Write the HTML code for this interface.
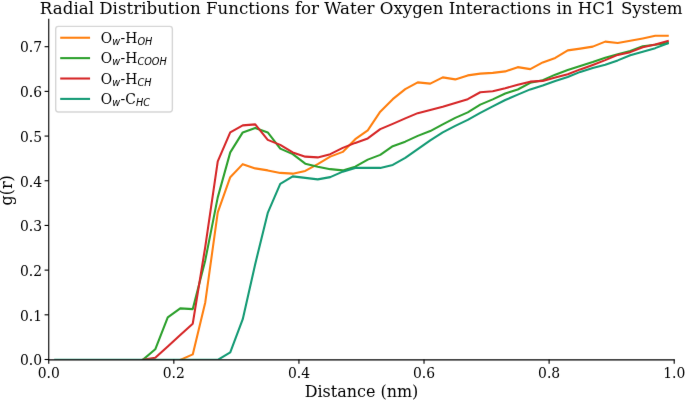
<!DOCTYPE html>
<html><head><meta charset="utf-8"><title>Radial Distribution Functions</title>
<style>html,body{margin:0;padding:0;background:#fff;width:685px;height:400px;overflow:hidden}svg{display:block}</style>
</head><body>
<svg width="685" height="400" viewBox="0 0 493.2 288" version="1.1">
 <defs>
  <style type="text/css">*{stroke-linejoin: round; stroke-linecap: butt}</style>
 </defs>
 <defs><filter id="soft" x="0" y="0" width="1" height="1" color-interpolation-filters="sRGB"><feConvolveMatrix order="3" kernelMatrix="0.00276 0.04704 0.00276 0.04704 0.80077 0.04704 0.00276 0.04704 0.00276" edgeMode="duplicate"/></filter></defs><g id="figure_1" filter="url(#soft)">
  <g id="patch_1">
   <path d="M 0 288 
L 493.2 288 
L 493.2 0 
L 0 0 
z
" style="fill: #ffffff"/>
  </g>
  <g id="axes_1">
   <g id="patch_2">
    <path d="M 35.1 258.84 
L 485.424 258.84 
L 485.424 13.968 
L 35.1 13.968 
z
" style="fill: #ffffff"/>
   </g>
   <g id="matplotlib.axis_1">
    <g id="xtick_1">
     <g id="line2d_1">
      <g>
       <path d="M 35.1000 258.8400 L 35.1000 261.8400" style="stroke: #000000; stroke-width: 0.8"/>
      </g>
     </g>
     <g id="text_1">
      <text style="font-size: 10px; font-family: 'DejaVu Serif', 'Liberation Serif', serif; text-anchor: middle" x="35.1" y="272.088437" transform="rotate(-0 35.1 272.088437)">0.0</text>
     </g>
    </g>
    <g id="xtick_2">
     <g id="line2d_2">
      <g>
       <path d="M 125.1648 258.8400 L 125.1648 261.8400" style="stroke: #000000; stroke-width: 0.8"/>
      </g>
     </g>
     <g id="text_2">
      <text style="font-size: 10px; font-family: 'DejaVu Serif', 'Liberation Serif', serif; text-anchor: middle" x="125.1648" y="272.088437" transform="rotate(-0 125.1648 272.088437)">0.2</text>
     </g>
    </g>
    <g id="xtick_3">
     <g id="line2d_3">
      <g>
       <path d="M 215.2296 258.8400 L 215.2296 261.8400" style="stroke: #000000; stroke-width: 0.8"/>
      </g>
     </g>
     <g id="text_3">
      <text style="font-size: 10px; font-family: 'DejaVu Serif', 'Liberation Serif', serif; text-anchor: middle" x="215.2296" y="272.088437" transform="rotate(-0 215.2296 272.088437)">0.4</text>
     </g>
    </g>
    <g id="xtick_4">
     <g id="line2d_4">
      <g>
       <path d="M 305.2944 258.8400 L 305.2944 261.8400" style="stroke: #000000; stroke-width: 0.8"/>
      </g>
     </g>
     <g id="text_4">
      <text style="font-size: 10px; font-family: 'DejaVu Serif', 'Liberation Serif', serif; text-anchor: middle" x="305.2944" y="272.088437" transform="rotate(-0 305.2944 272.088437)">0.6</text>
     </g>
    </g>
    <g id="xtick_5">
     <g id="line2d_5">
      <g>
       <path d="M 395.3592 258.8400 L 395.3592 261.8400" style="stroke: #000000; stroke-width: 0.8"/>
      </g>
     </g>
     <g id="text_5">
      <text style="font-size: 10px; font-family: 'DejaVu Serif', 'Liberation Serif', serif; text-anchor: middle" x="395.3592" y="272.088437" transform="rotate(-0 395.3592 272.088437)">0.8</text>
     </g>
    </g>
    <g id="xtick_6">
     <g id="line2d_6">
      <g>
       <path d="M 485.4240 258.8400 L 485.4240 261.8400" style="stroke: #000000; stroke-width: 0.8"/>
      </g>
     </g>
     <g id="text_6">
      <text style="font-size: 10px; font-family: 'DejaVu Serif', 'Liberation Serif', serif; text-anchor: middle" x="485.424" y="272.088437" transform="rotate(-0 485.424 272.088437)">1.0</text>
     </g>
    </g>
    <g id="text_7">
     <text style="font-size: 11.5px; font-family: 'DejaVu Serif', 'Liberation Serif', serif; text-anchor: middle" x="260.262" y="285.756328" transform="rotate(-0 260.262 285.756328)">Distance (nm)</text>
    </g>
   </g>
   <g id="matplotlib.axis_2">
    <g id="ytick_1">
     <g id="line2d_7">
      <g>
       <path d="M 35.1000 258.8400 L 32.1000 258.8400" style="stroke: #000000; stroke-width: 0.8"/>
      </g>
     </g>
     <g id="text_8" transform="translate(0.288 0.360)">
      <text style="font-size: 10px; font-family: 'DejaVu Serif', 'Liberation Serif', serif; text-anchor: end" x="30" y="262.639219" transform="rotate(-0 30 262.639219)">0.0</text>
     </g>
    </g>
    <g id="ytick_2">
     <g id="line2d_8">
      <g>
       <path d="M 35.1000 226.6661 L 32.1000 226.6661" style="stroke: #000000; stroke-width: 0.8"/>
      </g>
     </g>
     <g id="text_9" transform="translate(0.288 0.360)">
      <text style="font-size: 10px; font-family: 'DejaVu Serif', 'Liberation Serif', serif; text-anchor: end" x="30" y="230.465299" transform="rotate(-0 30 230.465299)">0.1</text>
     </g>
    </g>
    <g id="ytick_3">
     <g id="line2d_9">
      <g>
       <path d="M 35.1000 194.4922 L 32.1000 194.4922" style="stroke: #000000; stroke-width: 0.8"/>
      </g>
     </g>
     <g id="text_10" transform="translate(0.288 0.360)">
      <text style="font-size: 10px; font-family: 'DejaVu Serif', 'Liberation Serif', serif; text-anchor: end" x="30" y="198.291379" transform="rotate(-0 30 198.291379)">0.2</text>
     </g>
    </g>
    <g id="ytick_4">
     <g id="line2d_10">
      <g>
       <path d="M 35.1000 162.3182 L 32.1000 162.3182" style="stroke: #000000; stroke-width: 0.8"/>
      </g>
     </g>
     <g id="text_11" transform="translate(0.288 0.360)">
      <text style="font-size: 10px; font-family: 'DejaVu Serif', 'Liberation Serif', serif; text-anchor: end" x="30" y="166.117459" transform="rotate(-0 30 166.117459)">0.3</text>
     </g>
    </g>
    <g id="ytick_5">
     <g id="line2d_11">
      <g>
       <path d="M 35.1000 130.1443 L 32.1000 130.1443" style="stroke: #000000; stroke-width: 0.8"/>
      </g>
     </g>
     <g id="text_12" transform="translate(0.288 0.360)">
      <text style="font-size: 10px; font-family: 'DejaVu Serif', 'Liberation Serif', serif; text-anchor: end" x="30" y="133.943539" transform="rotate(-0 30 133.943539)">0.4</text>
     </g>
    </g>
    <g id="ytick_6">
     <g id="line2d_12">
      <g>
       <path d="M 35.1000 97.9704 L 32.1000 97.9704" style="stroke: #000000; stroke-width: 0.8"/>
      </g>
     </g>
     <g id="text_13" transform="translate(0.288 0.360)">
      <text style="font-size: 10px; font-family: 'DejaVu Serif', 'Liberation Serif', serif; text-anchor: end" x="30" y="101.769619" transform="rotate(-0 30 101.769619)">0.5</text>
     </g>
    </g>
    <g id="ytick_7">
     <g id="line2d_13">
      <g>
       <path d="M 35.1000 65.7965 L 32.1000 65.7965" style="stroke: #000000; stroke-width: 0.8"/>
      </g>
     </g>
     <g id="text_14" transform="translate(0.288 0.360)">
      <text style="font-size: 10px; font-family: 'DejaVu Serif', 'Liberation Serif', serif; text-anchor: end" x="30" y="69.595699" transform="rotate(-0 30 69.595699)">0.6</text>
     </g>
    </g>
    <g id="ytick_8">
     <g id="line2d_14">
      <g>
       <path d="M 35.1000 33.6226 L 32.1000 33.6226" style="stroke: #000000; stroke-width: 0.8"/>
      </g>
     </g>
     <g id="text_15" transform="translate(0.288 0.360)">
      <text style="font-size: 10px; font-family: 'DejaVu Serif', 'Liberation Serif', serif; text-anchor: end" x="30" y="37.421779" transform="rotate(-0 30 37.421779)">0.7</text>
     </g>
    </g>
    <g id="text_16">
     <text style="font-size: 11.5px; font-family: 'DejaVu Serif', 'Liberation Serif', serif; text-anchor: middle" x="8.981719" y="137.088" transform="rotate(-90 8.981719 137.088)">g(r)</text>
    </g>
   </g>
   <g id="line2d_15">
    <path d="M 129.78 259.128 
L 138.78 255.168 
L 147.78 217.728 
L 156.78 152.928 
L 165.78 127.584 
L 174.78 118.188 
L 183.78 121.248 
L 192.78 122.688 
L 201.78 124.488 
L 210.78 125.028 
L 219.78 123.048 
L 228.78 118.188 
L 237.78 112.788 
L 246.78 109.368 
L 255.78 100.188 
L 264.78 93.888 
L 273.78 80.388 
L 282.78 71.388 
L 291.78 64.188 
L 300.78 59.328 
L 309.78 60.228 
L 318.78 55.728 
L 327.78 57.168 
L 336.78 54.288 
L 345.78 53.028 
L 354.78 52.488 
L 363.78 51.408 
L 372.78 48.348 
L 381.78 49.788 
L 390.78 44.928 
L 399.78 41.688 
L 408.78 36.288 
L 417.78 35.028 
L 426.78 33.588 
L 435.78 29.988 
L 444.78 30.96 
L 453.78 29.376 
L 462.78 27.648 
L 471.78 25.776 
L 480.78 25.74 
" clip-path="url(#p02f2cd264d)" style="fill: none; stroke: #ff7f0e; stroke-width: 1.5; stroke-linecap: square"/>
   </g>
   <g id="line2d_16">
    <path d="M 102.78 259.128 
L 111.78 251.496 
L 120.78 228.528 
L 129.78 222.048 
L 138.78 222.552 
L 147.78 187.488 
L 156.78 142.128 
L 165.78 109.728 
L 174.78 95.328 
L 183.78 92.088 
L 192.78 95.328 
L 201.78 107.028 
L 210.78 110.988 
L 219.78 117.828 
L 228.78 119.988 
L 237.78 121.788 
L 246.78 122.688 
L 255.78 119.988 
L 264.78 114.948 
L 273.78 111.528 
L 282.78 105.228 
L 291.78 101.988 
L 300.78 97.848 
L 309.78 94.356 
L 318.78 89.532 
L 327.78 84.888 
L 336.78 80.928 
L 345.78 75.348 
L 354.78 71.568 
L 363.78 67.32 
L 372.78 64.44 
L 381.78 59.616 
L 390.78 57.708 
L 399.78 53.748 
L 408.78 50.4 
L 417.78 47.448 
L 426.78 44.64 
L 435.78 41.508 
L 444.78 38.988 
L 453.78 36.648 
L 462.78 33.336 
L 471.78 32.22 
L 480.78 30.96 
" clip-path="url(#p02f2cd264d)" style="fill: none; stroke: #2ca02c; stroke-width: 1.5; stroke-linecap: square"/>
   </g>
   <g id="line2d_17">
    <path d="M 102.78 259.128 
L 111.78 257.616 
L 120.78 249.408 
L 129.78 241.2 
L 138.78 233.028 
L 147.78 177.768 
L 156.78 116.208 
L 165.78 95.328 
L 174.78 90.288 
L 183.78 89.568 
L 192.78 100.728 
L 201.78 104.328 
L 210.78 109.728 
L 219.78 112.788 
L 228.78 113.328 
L 237.78 110.988 
L 246.78 106.488 
L 255.78 102.888 
L 264.78 99.648 
L 273.78 92.988 
L 282.78 89.208 
L 291.78 85.248 
L 300.78 81.468 
L 309.78 79.128 
L 318.78 76.788 
L 327.78 74.088 
L 336.78 71.388 
L 345.78 66.42 
L 354.78 65.7 
L 363.78 63.54 
L 372.78 61.056 
L 381.78 58.788 
L 390.78 58.248 
L 399.78 55.728 
L 408.78 53.46 
L 417.78 49.968 
L 426.78 46.728 
L 435.78 43.308 
L 444.78 39.528 
L 453.78 37.548 
L 462.78 34.056 
L 471.78 31.968 
L 480.78 29.556 
" clip-path="url(#p02f2cd264d)" style="fill: none; stroke: #d62728; stroke-width: 1.5; stroke-linecap: square"/>
   </g>
   <g id="line2d_18">
    <path d="M 39.78 259.128 
L 48.78 259.128 
L 57.78 259.128 
L 66.78 259.128 
L 75.78 259.128 
L 84.78 259.128 
L 93.78 259.128 
L 102.78 259.128 
L 111.78 259.128 
L 120.78 259.128 
L 129.78 259.128 
L 138.78 259.128 
L 147.78 259.128 
L 156.78 259.128 
L 165.78 253.728 
L 174.78 229.788 
L 183.78 190.008 
L 192.78 153.288 
L 201.78 132.408 
L 210.78 127.008 
L 219.78 128.088 
L 228.78 129.168 
L 237.78 127.548 
L 246.78 123.588 
L 255.78 120.888 
L 264.78 120.888 
L 273.78 120.888 
L 282.78 118.728 
L 291.78 113.688 
L 300.78 107.388 
L 309.78 101.088 
L 318.78 95.328 
L 327.78 90.648 
L 336.78 86.328 
L 345.78 81.288 
L 354.78 76.608 
L 363.78 72 
L 372.78 68.148 
L 381.78 64.368 
L 390.78 61.488 
L 399.78 58.248 
L 408.78 55.44 
L 417.78 51.768 
L 426.78 48.996 
L 435.78 46.692 
L 444.78 43.488 
L 453.78 39.816 
L 462.78 37.296 
L 471.78 34.668 
L 480.78 31.176 
" clip-path="url(#p02f2cd264d)" style="fill: none; stroke: #139a74; stroke-width: 1.5; stroke-linecap: square"/>
   </g>
   <g id="patch_3">
    <path d="M 35.1 258.84 
L 35.1 13.968 
" style="fill: none; stroke: #000000; stroke-width: 0.8; stroke-linejoin: miter; stroke-linecap: square"/>
   </g>
   <g id="patch_4" transform="translate(0 0.25)">
    <path d="M 35.1 258.84 
L 485.424 258.84 
" style="fill: none; stroke: #000000; stroke-width: 0.8; stroke-linejoin: miter; stroke-linecap: square"/>
   </g>
   <g id="text_17">
    <text style="font-size: 12px; font-family: 'DejaVu Serif', 'Liberation Serif', serif; text-anchor: middle" x="260.118" y="9.918" transform="rotate(-0 260.118 9.918)">Radial Distribution Functions for Water Oxygen Interactions in HC1 System</text>
   </g>
   <g id="legend_1">
    <g id="patch_5">
     <path d="M 42.1 80.6805 
L 122.1 80.6805 
Q 124.1 80.6805 124.1 78.6805 
L 124.1 20.968 
Q 124.1 18.968 122.1 18.968 
L 42.1 18.968 
Q 40.1 18.968 40.1 20.968 
L 40.1 78.6805 
Q 40.1 80.6805 42.1 80.6805 
z
" style="fill: #ffffff; opacity: 0.8; stroke: #cccccc; stroke-linejoin: miter"/>
    </g>
    <g id="line2d_19" transform="translate(0 0.108)">
     <path d="M 44.1 27.066438 
L 54.1 27.066438 
L 64.1 27.066438 
" style="fill: none; stroke: #ff7f0e; stroke-width: 1.5; stroke-linecap: square"/>
    </g>
    <g id="text_18" transform="translate(0.360 0.792)">
     <!-- O$_w$-H$_{OH}$ -->
     <g transform="translate(72.1 30.566438)">
      <text>
       <tspan x="0" y="-0.578125" style="font-size: 10px; font-family: 'DejaVu Serif', 'Liberation Serif', serif">O</tspan>
       <tspan x="14.29248" y="-0.578125" style="font-size: 10px; font-family: 'DejaVu Serif', 'Liberation Serif', serif">-</tspan>
       <tspan x="17.671387" y="-0.578125" style="font-size: 10px; font-family: 'DejaVu Serif', 'Liberation Serif', serif">H</tspan>
       <tspan x="8.293945" y="1.0625" style="font-style: oblique; font-size: 7px; font-family: 'DejaVu Sans', 'Liberation Sans', sans-serif">w</tspan>
       <tspan x="26.487793" y="1.0625" style="font-style: oblique; font-size: 7px; font-family: 'DejaVu Sans', 'Liberation Sans', sans-serif">O</tspan>
       <tspan x="31.997559" y="1.0625" style="font-style: oblique; font-size: 7px; font-family: 'DejaVu Sans', 'Liberation Sans', sans-serif">H</tspan>
      </text>
     </g>
    </g>
    <g id="line2d_20" transform="translate(0 0.108)">
     <path d="M 44.1 41.744563 
L 54.1 41.744563 
L 64.1 41.744563 
" style="fill: none; stroke: #2ca02c; stroke-width: 1.5; stroke-linecap: square"/>
    </g>
    <g id="text_19" transform="translate(0.360 0.792)">
     <!-- O$_w$-H$_{COOH}$ -->
     <g transform="translate(72.1 45.244563)">
      <text>
       <tspan x="0" y="-0.578125" style="font-size: 10px; font-family: 'DejaVu Serif', 'Liberation Serif', serif">O</tspan>
       <tspan x="14.29248" y="-0.578125" style="font-size: 10px; font-family: 'DejaVu Serif', 'Liberation Serif', serif">-</tspan>
       <tspan x="17.671387" y="-0.578125" style="font-size: 10px; font-family: 'DejaVu Serif', 'Liberation Serif', serif">H</tspan>
       <tspan x="8.293945" y="1.0625" style="font-style: oblique; font-size: 7px; font-family: 'DejaVu Sans', 'Liberation Sans', sans-serif">w</tspan>
       <tspan x="26.487793" y="1.0625" style="font-style: oblique; font-size: 7px; font-family: 'DejaVu Sans', 'Liberation Sans', sans-serif">C</tspan>
       <tspan x="31.375488" y="1.0625" style="font-style: oblique; font-size: 7px; font-family: 'DejaVu Sans', 'Liberation Sans', sans-serif">O</tspan>
       <tspan x="36.885254" y="1.0625" style="font-style: oblique; font-size: 7px; font-family: 'DejaVu Sans', 'Liberation Sans', sans-serif">O</tspan>
       <tspan x="42.39502" y="1.0625" style="font-style: oblique; font-size: 7px; font-family: 'DejaVu Sans', 'Liberation Sans', sans-serif">H</tspan>
      </text>
     </g>
    </g>
    <g id="line2d_21" transform="translate(0 0.108)">
     <path d="M 44.1 56.422687 
L 54.1 56.422687 
L 64.1 56.422687 
" style="fill: none; stroke: #d62728; stroke-width: 1.5; stroke-linecap: square"/>
    </g>
    <g id="text_20" transform="translate(0.360 0.792)">
     <!-- O$_w$-H$_{CH}$ -->
     <g transform="translate(72.1 59.922687)">
      <text>
       <tspan x="0" y="-0.578125" style="font-size: 10px; font-family: 'DejaVu Serif', 'Liberation Serif', serif">O</tspan>
       <tspan x="14.29248" y="-0.578125" style="font-size: 10px; font-family: 'DejaVu Serif', 'Liberation Serif', serif">-</tspan>
       <tspan x="17.671387" y="-0.578125" style="font-size: 10px; font-family: 'DejaVu Serif', 'Liberation Serif', serif">H</tspan>
       <tspan x="8.293945" y="1.0625" style="font-style: oblique; font-size: 7px; font-family: 'DejaVu Sans', 'Liberation Sans', sans-serif">w</tspan>
       <tspan x="26.487793" y="1.0625" style="font-style: oblique; font-size: 7px; font-family: 'DejaVu Sans', 'Liberation Sans', sans-serif">C</tspan>
       <tspan x="31.375488" y="1.0625" style="font-style: oblique; font-size: 7px; font-family: 'DejaVu Sans', 'Liberation Sans', sans-serif">H</tspan>
      </text>
     </g>
    </g>
    <g id="line2d_22" transform="translate(0 0.108)">
     <path d="M 44.1 71.100813 
L 54.1 71.100813 
L 64.1 71.100813 
" style="fill: none; stroke: #139a74; stroke-width: 1.5; stroke-linecap: square"/>
    </g>
    <g id="text_21" transform="translate(0.360 0.792)">
     <!-- O$_w$-C$_{HC}$ -->
     <g transform="translate(72.1 74.600813)">
      <text>
       <tspan x="0" y="-0.578125" style="font-size: 10px; font-family: 'DejaVu Serif', 'Liberation Serif', serif">O</tspan>
       <tspan x="14.29248" y="-0.578125" style="font-size: 10px; font-family: 'DejaVu Serif', 'Liberation Serif', serif">-</tspan>
       <tspan x="17.671387" y="-0.578125" style="font-size: 10px; font-family: 'DejaVu Serif', 'Liberation Serif', serif">C</tspan>
       <tspan x="8.293945" y="1.0625" style="font-style: oblique; font-size: 7px; font-family: 'DejaVu Sans', 'Liberation Sans', sans-serif">w</tspan>
       <tspan x="25.418457" y="1.0625" style="font-style: oblique; font-size: 7px; font-family: 'DejaVu Sans', 'Liberation Sans', sans-serif">H</tspan>
       <tspan x="30.682129" y="1.0625" style="font-style: oblique; font-size: 7px; font-family: 'DejaVu Sans', 'Liberation Sans', sans-serif">C</tspan>
      </text>
     </g>
    </g>
   </g>
  </g>
 </g>
 <defs>
  <clipPath id="p02f2cd264d">
   <rect x="35.1" y="13.968" width="450.324" height="244.872"/>
  </clipPath>
 </defs>
</svg>

</body></html>
